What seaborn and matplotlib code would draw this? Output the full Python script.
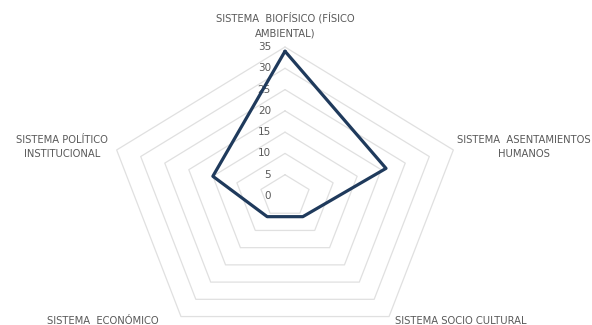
import numpy as np
import pandas as pd
import matplotlib
matplotlib.use("Agg")
import matplotlib.pyplot as plt
import seaborn as sns

# Systems evaluated (clockwise from the top) and their scores
categories = [
    "SISTEMA  BIOFÍSICO (FÍSICO\nAMBIENTAL)",
    "SISTEMA  ASENTAMIENTOS\nHUMANOS",
    "SISTEMA SOCIO CULTURAL",
    "SISTEMA  ECONÓMICO",
    "SISTEMA POLÍTICO\nINSTITUCIONAL",
]
scores = [34, 21, 6, 6, 15]
radial_ticks = [0, 5, 10, 15, 20, 25, 30, 35]

sns.set_theme(style="white")
plt.rcParams["font.family"] = ["DejaVu Sans"]

W, H = 592, 325
fig = plt.figure(figsize=(W / 100, H / 100), dpi=100)
fig.patch.set_facecolor("white")

# centre, vertical and horizontal outer radius in pixels
cx, cy, Ry, Rx = 285, 196, 149, 177
ax = fig.add_axes([(cx - Rx) / W, (H - cy - Ry) / H, 2 * Rx / W, 2 * Ry / H],
                  projection="polar")
ax.set_aspect("auto")
ax.set_theta_offset(np.pi / 2)
ax.set_theta_direction(-1)
ax.set_ylim(0, 35)
ax.grid(False)
ax.spines["polar"].set_visible(False)
ax.set_xticks([])
ax.set_yticks([])
ax.patch.set_alpha(0)

n = len(categories)
angles = np.linspace(0, 2 * np.pi, n, endpoint=False)
closed = np.append(angles, 2 * np.pi)

# Pentagonal gridlines
for r in radial_ticks[1:]:
    ax.plot(closed, [r] * (n + 1), color="#e0e0e0", lw=0.9, zorder=1,
            clip_on=False)

# Radial tick labels along the top spoke
for r in radial_ticks:
    ax.annotate(str(r), xy=(0, r), xytext=(-14, 0), textcoords="offset pixels",
                ha="right", va="center", fontsize=7.5, color="#595959",
                zorder=2)

df = pd.DataFrame({"theta": closed, "score": scores + scores[:1]})
sns.lineplot(data=df, x="theta", y="score", sort=False, estimator=None, ax=ax,
             color="#1f3a5c", lw=2.3, zorder=3, clip_on=False)
ax.set_xlabel("")
ax.set_ylabel("")

# Category labels
label_pos = [(285, 25), (524, 147), (461, 321), (103, 321), (62, 147)]
for text, (x, y) in zip(categories, label_pos):
    fig.text(x / W, 1 - y / H, text, ha="center", va="center",
             fontsize=7.2, color="#595959", linespacing=1.6)

fig.savefig("out.png", dpi=100, facecolor="white")
